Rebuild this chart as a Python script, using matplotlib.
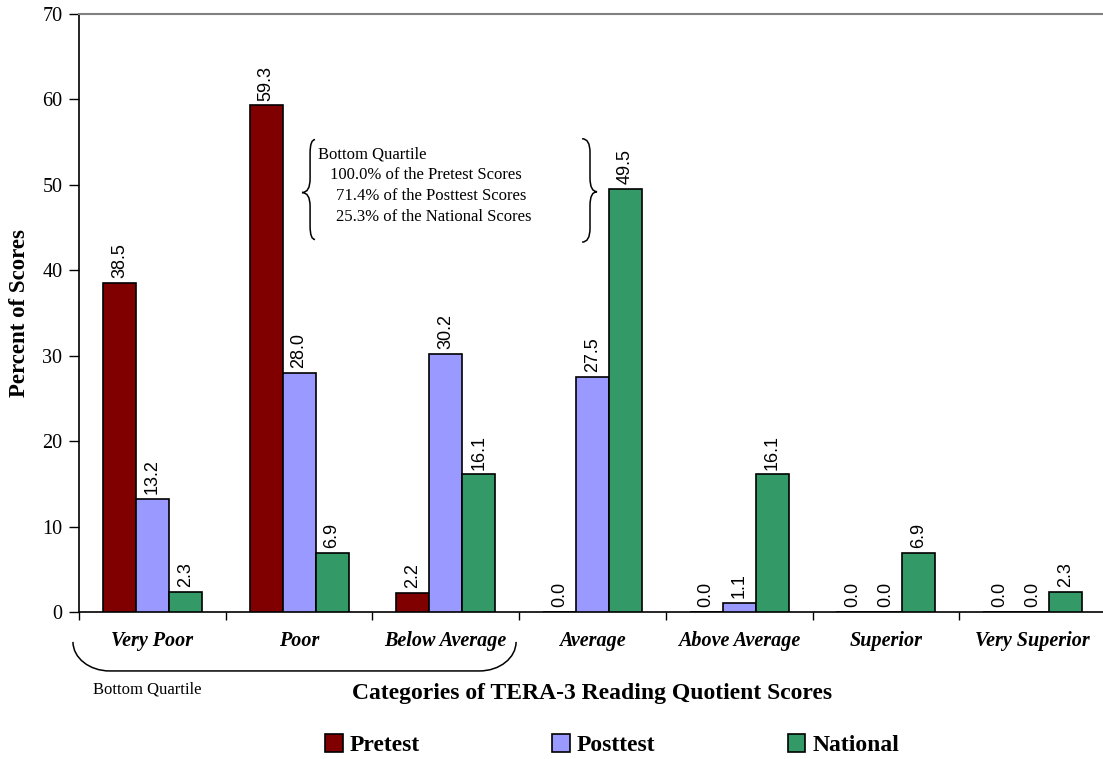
import matplotlib
matplotlib.use("Agg")
import matplotlib.pyplot as plt
import numpy as np
from matplotlib.path import Path
from matplotlib.patches import PathPatch, Patch

categories = ["Very Poor", "Poor", "Below Average", "Average",
              "Above Average", "Superior", "Very Superior"]
pretest = [38.5, 59.3, 2.2, 0.0, 0.0, 0.0, 0.0]
posttest = [13.2, 28.0, 30.2, 27.5, 1.1, 0.0, 0.0]
national = [2.3, 6.9, 16.1, 49.5, 16.1, 6.9, 2.3]
series_names = ["Pretest", "Posttest", "National"]
series_colors = ["#800000", "#9999FF", "#339966"]
quartile_lines = ["Bottom Quartile",
                  "100.0% of the Pretest Scores",
                  "71.4% of the Posttest Scores",
                  "25.3% of the National Scores"]

SERIF = "Liberation Serif"
SANS = "Liberation Sans"

fig = plt.figure(figsize=(11.03, 7.59), dpi=100)
ax = fig.add_axes([79 / 1103, 1 - 612 / 759, 1027 / 1103, 598 / 759])

x = np.arange(len(categories))
width = 0.225
for i, (vals, name, col) in enumerate(zip([pretest, posttest, national],
                                          series_names, series_colors)):
    pos = x + (i - 1) * width
    ax.bar(pos, vals, width, color=col, edgecolor="black", linewidth=1.2,
           label=name, zorder=3)
    for px, v in zip(pos, vals):
        ax.annotate(f"{v:.1f}", (px, v), xytext=(0, 3.5), textcoords="offset points",
                    rotation=90, ha="center", va="bottom",
                    fontsize=13, family=SANS)

ax.set_xlim(-0.5, len(categories) - 0.5)
ax.set_ylim(0, 70)
ax.set_yticks(np.arange(0, 71, 10))
ax.tick_params(axis="y", direction="out", length=7, width=1, labelsize=14.5, pad=5)
for lab in ax.get_yticklabels():
    lab.set_family(SERIF)

# boundaries get the tick marks, centres get the labels
ax.set_xticks(np.arange(-0.5, len(categories), 1.0))
ax.set_xticklabels([])
ax.tick_params(axis="x", which="major", direction="out", length=6, width=1)
ax.set_xticks(x, minor=True)
ax.set_xticklabels(categories, minor=True, fontsize=14.5, family=SERIF,
                   fontweight="bold", style="italic")
ax.tick_params(axis="x", which="minor", length=0, pad=14)

ax.spines["right"].set_visible(False)
ax.spines["top"].set_color("#808080")
ax.spines["top"].set_linewidth(1.5)
for s in ("left", "bottom"):
    ax.spines[s].set_linewidth(1.2)

ax.set_ylabel("Percent of Scores", fontsize=16.5, family=SERIF,
              fontweight="bold", labelpad=9)
ax.set_xlabel("Categories of TERA-3 Reading Quotient Scores", fontsize=17,
              family=SERIF, fontweight="bold", labelpad=23)


def vbrace(x_arm, x_stem, x_tip, y_top, y_bot, y_tip):
    r = 1.6
    verts = [(x_arm, y_top),
             (x_stem, y_top), (x_stem, y_top - r),
             (x_stem, y_tip + r),
             (x_stem, y_tip), (x_tip, y_tip),
             (x_stem, y_tip), (x_stem, y_tip - r),
             (x_stem, y_bot + r),
             (x_stem, y_bot), (x_arm, y_bot)]
    codes = [Path.MOVETO,
             Path.CURVE3, Path.CURVE3,
             Path.LINETO,
             Path.CURVE3, Path.CURVE3,
             Path.CURVE3, Path.CURVE3,
             Path.LINETO,
             Path.CURVE3, Path.CURVE3]
    ax.add_patch(PathPatch(Path(verts, codes), fill=False, lw=1.1,
                           edgecolor="black", clip_on=False, zorder=4))


vbrace(1.109, 1.075, 1.020, 55.3, 43.6, 49.1)
vbrace(2.929, 2.983, 3.031, 55.4, 43.3, 49.2)

line_x = [1.13, 1.21, 1.25, 1.25]
line_y = [53.6, 51.1, 48.7, 46.2]
for t, lx, ly in zip(quartile_lines, line_x, line_y):
    ax.text(lx, ly, t, fontsize=12, family=SERIF, ha="left", va="center",
            zorder=5)

# curved bracket under the first three categories
xl, xr, yt, yb = -0.541, 2.479, -3.5, -6.9
w, h, k = 0.25, yt - yb, 0.5523
verts = [(xl, yt), (xl, yt - k * h), (xl + w - k * w, yb), (xl + w, yb),
         (xr - w, yb), (xr - w + k * w, yb), (xr, yt - k * h), (xr, yt)]
codes = [Path.MOVETO, Path.CURVE4, Path.CURVE4, Path.CURVE4,
         Path.LINETO, Path.CURVE4, Path.CURVE4, Path.CURVE4]
ax.add_patch(PathPatch(Path(verts, codes), fill=False, lw=1.1,
                       edgecolor="black", clip_on=False))
ax.text(-0.036, -9.1, "Bottom Quartile", fontsize=12, family=SERIF,
        ha="center", va="center", clip_on=False)

handles = [Patch(facecolor=c, edgecolor="black", linewidth=1.2)
           for c in series_colors]
fig.legend(handles, series_names, loc="center", bbox_to_anchor=(0.555, 0.018),
           ncol=3, frameon=False, handlelength=0.75, handleheight=0.75,
           handletextpad=0.3, columnspacing=5.6,
           prop={"family": SERIF, "weight": "bold", "size": 17})

fig.savefig("out.png", dpi=100)
